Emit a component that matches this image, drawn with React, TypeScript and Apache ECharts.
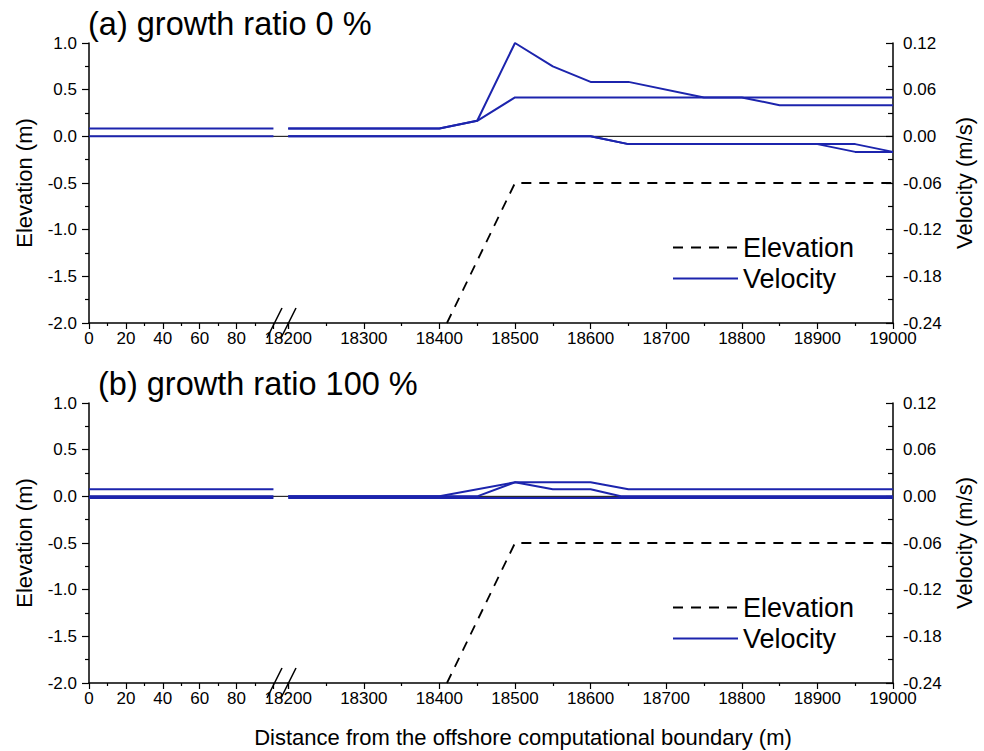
import React, { useEffect, useRef } from 'react';
import * as echarts from 'echarts';

// ---------- data ----------
const LEFT_X_MIN = 0;
const LEFT_X_MAX = 108; // segment 0-100 is drawn, axis runs on to the break
const RIGHT_X_MIN = 18200;
const RIGHT_X_MAX = 19000;
const ELEV_MIN = -2;
const ELEV_MAX = 1;
const VEL_MIN = -0.24;
const VEL_MAX = 0.12;

const panelTitles = ['(a) growth ratio 0 %', '(b) growth ratio 100 %'];
const legendNames = ['Elevation', 'Velocity'];

const elevation = [[18410, -2.0], [18500, -0.5], [19000, -0.5]];

const zeroLeft = [[LEFT_X_MIN, 0], [LEFT_X_MAX, 0]];
const zeroRight = [[RIGHT_X_MIN, 0], [RIGHT_X_MAX, 0]];

// panel (a): growth ratio 0 %
const aVelLeftUpper = [[0, 0.01], [100, 0.01]];
const aVelLeftLower = [[0, 0], [100, 0]];
const aVelMaxFlat = [[18200, 0.01], [18400, 0.01], [18450, 0.02], [18500, 0.05], [19000, 0.05]];
const aVelMaxPeak = [[18200, 0.01], [18400, 0.01], [18450, 0.02], [18500, 0.12], [18550, 0.09], [18600, 0.07], [18650, 0.07], [18750, 0.05], [18800, 0.05], [18850, 0.04], [19000, 0.04]];
const aVelMinEarly = [[18200, 0], [18600, 0], [18650, -0.01], [18900, -0.01], [18950, -0.02], [19000, -0.02]];
const aVelMinLate = [[18200, 0], [18600, 0], [18650, -0.01], [18950, -0.01], [19000, -0.02]];

// panel (b): growth ratio 100 %
const bVelLeftUpper = [[0, 0.009], [100, 0.009]];
const bVelLeftLower = [[0, 0], [100, 0]];
const bVelLeftMin = [[0, -0.002], [100, -0.002]];
const bVelMaxWide = [[18200, 0], [18400, 0], [18500, 0.018], [18600, 0.018], [18650, 0.009], [19000, 0.009]];
const bVelMaxNarrow = [[18200, 0], [18450, 0], [18500, 0.018], [18550, 0.009], [18600, 0.009], [18640, 0], [19000, 0]];
const bVelMin = [[18200, -0.002], [19000, -0.002]];

const panelLeftVel = [
  [aVelLeftUpper, aVelLeftLower],
  [bVelLeftUpper, bVelLeftLower, bVelLeftMin],
];
const panelRightVel = [
  [aVelMaxFlat, aVelMaxPeak, aVelMinEarly, aVelMinLate],
  [bVelMaxWide, bVelMaxNarrow, bVelMin],
];

// ---------- styles / layout ----------
const FONT = 'Liberation Sans, Arial, sans-serif';
const BLUE = '#1c24ad';
const PLOT_LEFT = 89;
const BREAK_X = 288.2;
const PLOT_RIGHT = 893;
const PANEL_TOPS = [43, 403];
const PANEL_H = 280;
const TITLE_POS = [[88, 24], [98, 384]];
const LEGEND_TOPS = [232, 592];

function buildOption() {
  const grid: any[] = [];
  const xAxis: any[] = [];
  const yAxis: any[] = [];
  const series: any[] = [];
  const legend: any[] = [];
  const graphic: any[] = [];

  const axisLine = { show: true, onZero: false, lineStyle: { color: '#000', width: 1.5 } };
  const labelBase = { color: '#000', fontSize: 17, fontFamily: FONT };

  PANEL_TOPS.forEach((top, p) => {
    const gL = p * 2;
    const gR = p * 2 + 1;
    grid.push({ left: PLOT_LEFT, top, width: BREAK_X - PLOT_LEFT, height: PANEL_H });
    grid.push({ left: BREAK_X, top, width: PLOT_RIGHT - BREAK_X, height: PANEL_H });

    xAxis.push({
      type: 'value', gridIndex: gL, min: LEFT_X_MIN, max: LEFT_X_MAX, interval: 20,
      axisLine, splitLine: { show: false },
      axisTick: { show: true, inside: false, length: 6, lineStyle: { color: '#000', width: 1.2 } },
      minorTick: { show: true, splitNumber: 2, length: 3, lineStyle: { color: '#000', width: 1.2 } },
      axisLabel: { ...labelBase, margin: 7, showMaxLabel: false, formatter: (v: number) => (v <= 80 ? String(v) : '') },
    });
    xAxis.push({
      type: 'value', gridIndex: gR, min: RIGHT_X_MIN, max: RIGHT_X_MAX, interval: 100,
      axisLine, splitLine: { show: false },
      axisTick: { show: true, inside: false, length: 6, lineStyle: { color: '#000', width: 1.2 } },
      minorTick: { show: true, splitNumber: 2, length: 3, lineStyle: { color: '#000', width: 1.2 } },
      axisLabel: { ...labelBase, margin: 7, formatter: (v: number) => String(v) },
    });

    // left grid: elevation (shown), velocity (hidden)
    yAxis.push({
      type: 'value', gridIndex: gL, position: 'left', min: ELEV_MIN, max: ELEV_MAX, interval: 0.5,
      axisLine, splitLine: { show: false },
      axisTick: { show: true, inside: false, length: 7, lineStyle: { color: '#000', width: 1.2 } },
      minorTick: { show: true, splitNumber: 2, length: 4, lineStyle: { color: '#000', width: 1.2 } },
      axisLabel: { ...labelBase, margin: 12, formatter: (v: number) => (Math.abs(v) < 1e-9 ? '0.0' : v.toFixed(1)) },
      name: 'Elevation (m)', nameLocation: 'middle', nameGap: 54,
      nameTextStyle: { color: '#000', fontSize: 22, fontFamily: FONT },
    });
    yAxis.push({ type: 'value', gridIndex: gL, position: 'right', min: VEL_MIN, max: VEL_MAX, interval: 0.06, show: false });
    // right grid: elevation (hidden), velocity (shown)
    yAxis.push({ type: 'value', gridIndex: gR, position: 'left', min: ELEV_MIN, max: ELEV_MAX, interval: 0.5, show: false });
    yAxis.push({
      type: 'value', gridIndex: gR, position: 'right', min: VEL_MIN, max: VEL_MAX, interval: 0.06,
      axisLine, splitLine: { show: false },
      axisTick: { show: true, inside: true, length: 7, lineStyle: { color: '#000', width: 1.2 } },
      minorTick: { show: true, splitNumber: 2, length: 5, lineStyle: { color: '#000', width: 1.2 } },
      axisLabel: { ...labelBase, margin: 10, formatter: (v: number) => (Math.abs(v) < 1e-9 ? '0.00' : v.toFixed(2)) },
      name: 'Velocity (m/s)', nameLocation: 'middle', nameGap: 60,
      nameTextStyle: { color: '#000', fontSize: 22, fontFamily: FONT },
    });

    const yElevL = gL * 2, yVelL = gL * 2 + 1, yElevR = gR * 2, yVelR = gR * 2 + 1;

    // zero reference lines
    series.push({
      type: 'line', name: 'zero', xAxisIndex: gL, yAxisIndex: yElevL, data: zeroLeft,
      symbol: 'none', silent: true, z: 1, lineStyle: { color: '#000', width: 1 },
    });
    series.push({
      type: 'line', name: 'zero', xAxisIndex: gR, yAxisIndex: yElevR, data: zeroRight,
      symbol: 'none', silent: true, z: 1, lineStyle: { color: '#000', width: 1 },
    });

    series.push({
      type: 'line', name: 'Elevation', xAxisIndex: gR, yAxisIndex: yElevR, data: elevation,
      symbol: 'none', z: 3, color: '#000', lineStyle: { color: '#000', width: 1.8, type: [10, 8] },
    });

    panelLeftVel[p].forEach((d) => {
      series.push({
        type: 'line', name: 'Velocity', xAxisIndex: gL, yAxisIndex: yVelL, data: d,
        symbol: 'none', z: 2, color: BLUE, lineStyle: { color: BLUE, width: 2 },
      });
    });
    panelRightVel[p].forEach((d) => {
      series.push({
        type: 'line', name: 'Velocity', xAxisIndex: gR, yAxisIndex: yVelR, data: d,
        symbol: 'none', z: 2, color: BLUE, lineStyle: { color: BLUE, width: 2 },
      });
    });

    legend.push({
      data: legendNames, orient: 'vertical', left: 672, top: LEGEND_TOPS[p], padding: 0, itemGap: 0,
      itemWidth: 65, itemHeight: 14, selectedMode: false,
      itemStyle: { opacity: 0, borderWidth: 0 },
      textStyle: { color: '#000', fontSize: 27, fontFamily: FONT, lineHeight: 31 },
    });

    const axisY = top + PANEL_H;
    graphic.push({ type: 'line', shape: { x1: 267, y1: axisY + 15, x2: 282, y2: axisY - 15 }, style: { stroke: '#000', lineWidth: 1.5 }, z: 10 });
    graphic.push({ type: 'line', shape: { x1: 281, y1: axisY + 15, x2: 296, y2: axisY - 15 }, style: { stroke: '#000', lineWidth: 1.5 }, z: 10 });
    graphic.push({
      type: 'text', x: TITLE_POS[p][0], y: TITLE_POS[p][1], z: 10,
      style: { text: panelTitles[p], fontSize: 32.5, fontFamily: FONT, fill: '#000', textAlign: 'left', textVerticalAlign: 'middle' },
    });
  });

  graphic.push({
    type: 'text', x: 523, y: 737, z: 10,
    style: { text: 'Distance from the offshore computational boundary (m)', fontSize: 22, fontFamily: FONT, fill: '#000', textAlign: 'center', textVerticalAlign: 'middle' },
  });

  return {
    animation: false,
    backgroundColor: '#fff',
    textStyle: { fontFamily: FONT },
    grid, xAxis, yAxis, series, legend, graphic,
  };
}

export default function App() {
  const ref = useRef<HTMLDivElement>(null);
  useEffect(() => {
    if (!ref.current) return;
    const chart = echarts.init(ref.current, undefined, { renderer: 'svg' });
    chart.setOption(buildOption() as any);
    return () => chart.dispose();
  }, []);
  return <div ref={ref} style={{ position: 'fixed', left: 0, top: 0, width: 984, height: 751 }} />;
}
